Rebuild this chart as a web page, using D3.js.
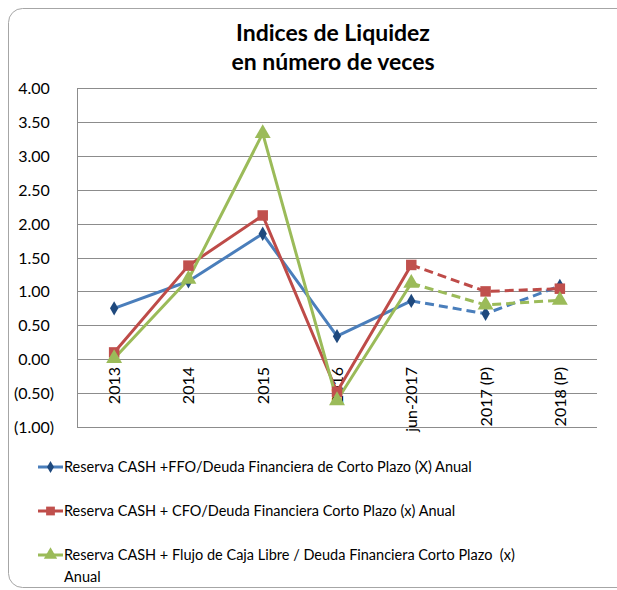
<!DOCTYPE html>
<html><head><meta charset="utf-8">
<script src="https://cdn.jsdelivr.net/npm/d3@7"></script>
<style>body{margin:0;background:#fff}svg{display:block}</style>
</head><body>
<svg id="c" width="617" height="590"></svg>
<script>
const categories = ["2013","2014","2015","2016","jun-2017","2017 (P)","2018 (P)"];
const seriesFFO = [0.75, 1.15, 1.85, 0.34, 0.86, 0.67, 1.08];
const seriesCFO = [0.10, 1.38, 2.12, -0.48, 1.39, 1.00, 1.04];
const seriesFCL = [0.01, 1.18, 3.33, -0.61, 1.12, 0.80, 0.87];
const seriesNames = [
  "Reserva CASH +FFO/Deuda Financiera de Corto Plazo (X) Anual",
  "Reserva CASH + CFO/Deuda Financiera Corto Plazo (x) Anual",
  "Reserva CASH + Flujo de Caja Libre / Deuda Financiera Corto Plazo  (x) Anual"
];
const yTicks = [4, 3.5, 3, 2.5, 2, 1.5, 1, 0.5, 0, -0.5, -1];
const dashFrom = 4; // index where projected (dashed) segment starts

const font = "Lato, 'Open Sans', sans-serif";
const svg = d3.select("#c");

// chart border
svg.append("rect").attr("x",8.5).attr("y",8.5).attr("width",640).attr("height",579)
  .attr("rx",14).attr("fill","#fff").attr("stroke","#a6a6a6").attr("stroke-width",1);

// title
const title = svg.append("text").attr("text-anchor","middle").attr("font-family",font)
  .attr("font-weight","bold").attr("font-size",23).attr("fill","#000");
title.append("tspan").attr("x",333).attr("y",41).text("Indices de Liquidez");
title.append("tspan").attr("x",333).attr("y",70).text("en número de veces");

const x = d3.scalePoint().domain(categories).range([77,597]).padding(0.5);
const y = d3.scaleLinear().domain([-1,4]).range([427,88]);

// gridlines
svg.append("g").selectAll("line").data(yTicks).join("line")
  .attr("x1",77).attr("x2",597).attr("y1",d=>Math.round(y(d))+0.5).attr("y2",d=>Math.round(y(d))+0.5)
  .attr("stroke","#8c8c8c").attr("stroke-width",1);
svg.append("line").attr("x1",77.5).attr("x2",77.5).attr("y1",88).attr("y2",427)
  .attr("stroke","#8c8c8c");

// y labels
const fmt = d => d < 0 ? "(" + d3.format(".2f")(-d) + ")" : d3.format(".2f")(d);
svg.append("g").selectAll("text").data(yTicks).join("text")
  .attr("x",34).attr("y",d=>y(d)+6).attr("text-anchor","middle")
  .attr("font-family",font).attr("font-size",16).attr("fill","#000").text(fmt);

// x labels rotated
svg.append("g").selectAll("text").data(categories).join("text")
  .attr("transform",d=>`translate(${x(d)+6},367) rotate(-90)`)
  .attr("text-anchor","end").attr("font-family",font).attr("font-size",16).attr("fill","#000")
  .text(d=>d);

const series = [
  {vals:seriesFFO, line:"#4a7ebb", mark:"#1f497d", sym:d3.symbolDiamond, size:60},
  {vals:seriesCFO, line:"#be4b48", mark:"#c0504d", sym:d3.symbolSquare, size:110},
  {vals:seriesFCL, line:"#9bbb59", mark:"#9bbb59", sym:d3.symbolTriangle, size:110}
];

const lineGen = d3.line().x(d=>x(d.c)).y(d=>y(d.v));
series.forEach(s=>{
  const pts = categories.map((c,i)=>({c, v:s.vals[i]}));
  svg.append("path").attr("d",lineGen(pts.slice(0,dashFrom+1)))
    .attr("fill","none").attr("stroke",s.line).attr("stroke-width",3).attr("stroke-linejoin","round");
  svg.append("path").attr("d",lineGen(pts.slice(dashFrom)))
    .attr("fill","none").attr("stroke",s.line).attr("stroke-width",3).attr("stroke-dasharray","9,5");
});
series.forEach(s=>{
  const pts = categories.map((c,i)=>({c, v:s.vals[i]}));
  svg.append("g").selectAll("path").data(pts).join("path")
    .attr("transform",d=>`translate(${x(d.c)},${y(d.v)})`)
    .attr("d",d3.symbol().type(s.sym).size(s.size)).attr("fill",s.mark);
});

// legend
const legY = [467, 511, 555];
series.forEach((s,i)=>{
  const g = svg.append("g");
  g.append("line").attr("x1",38).attr("x2",63).attr("y1",legY[i]).attr("y2",legY[i])
    .attr("stroke",s.line).attr("stroke-width",3);
  g.append("path").attr("transform",`translate(50.5,${legY[i]})`)
    .attr("d",d3.symbol().type(s.sym).size(s.size*0.7)).attr("fill",s.mark);
});
const legTexts = [[seriesNames[0]],[seriesNames[1]],
  ["Reserva CASH + Flujo de Caja Libre / Deuda Financiera Corto Plazo  (x)","Anual"]];
legTexts.forEach((lines,i)=>{
  const t = svg.append("text").attr("font-family",font).attr("font-size",14.5).attr("fill","#000")
    .attr("xml:space","preserve");
  lines.forEach((ln,j)=>t.append("tspan").attr("x",64).attr("y",legY[i]+5+j*22).text(ln));
});
</script>
</body></html>
